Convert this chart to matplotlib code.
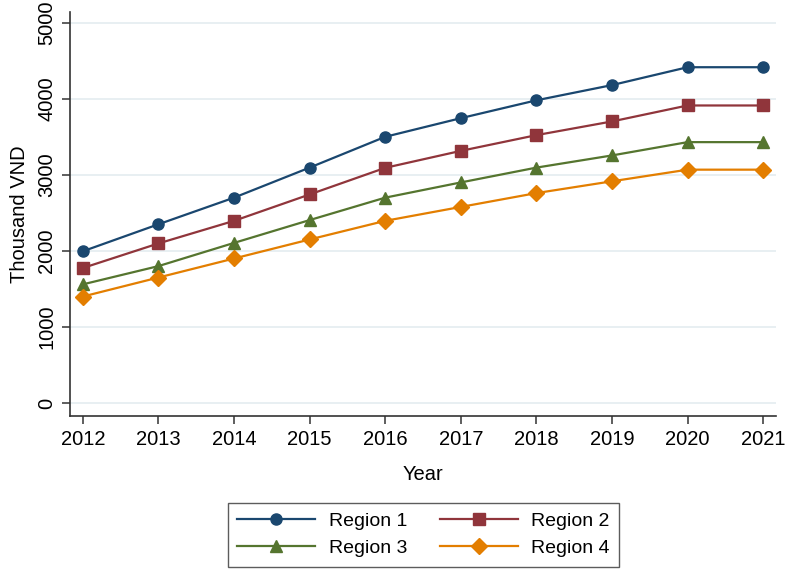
import matplotlib
matplotlib.use("Agg")
from matplotlib import pyplot as plt

years = [2012, 2013, 2014, 2015, 2016, 2017, 2018, 2019, 2020, 2021]
region1 = [1995, 2350, 2700, 3095, 3500, 3745, 3980, 4180, 4415, 4415]
region2 = [1775, 2098, 2395, 2742, 3092, 3315, 3522, 3702, 3912, 3912]
region3 = [1560, 1800, 2105, 2405, 2700, 2900, 3095, 3255, 3430, 3430]
region4 = [1400, 1650, 1900, 2150, 2395, 2578, 2760, 2915, 3068, 3068]
labels = ["Region 1", "Region 2", "Region 3", "Region 4"]
y_ticks = [0, 1000, 2000, 3000, 4000, 5000]

colors = ["#1a476f", "#90353b", "#55752f", "#e37e00"]
markers = ["o", "s", "^", "D"]
sizes = [8, 8, 8.5, 8]

plt.rcParams["font.family"] = ["Liberation Sans", "DejaVu Sans"]

fig = plt.figure(figsize=(7.87, 5.71), dpi=100)
ax = fig.add_axes([70 / 787, 1 - 415.7 / 571, 706 / 787, 404 / 571])

lines = []
for vals, lab, c, m, s in zip([region1, region2, region3, region4], labels, colors, markers, sizes):
    ln, = ax.plot(years, vals, color=c, marker=m, markersize=s, linewidth=1.6, label=lab, zorder=3)
    lines.append(ln)

ax.set_xlim(2011.83, 2021.17)
ax.set_ylim(-167, 5145)
ax.set_xticks(years)
ax.set_yticks(y_ticks)
ax.set_yticklabels([str(v) for v in y_ticks], rotation=90, va="center")
ax.grid(axis="y", color="#e6eef1", linewidth=1.3, zorder=0)
ax.set_axisbelow(True)

for side in ["top", "right"]:
    ax.spines[side].set_visible(False)
for side in ["left", "bottom"]:
    ax.spines[side].set_color("#333333")
    ax.spines[side].set_linewidth(1.2)
ax.tick_params(axis="both", labelsize=14.5, length=6, width=1.1, color="#333333", pad=4)

ax.set_xlabel("Year", fontsize=14.5, labelpad=12)
ax.set_ylabel("Thousand VND", fontsize=14.5, labelpad=6)

# fill legend row by row: Region 1, Region 2 / Region 3, Region 4
order = [0, 2, 1, 3]
leg = fig.legend([lines[i] for i in order], [labels[i] for i in order],
                 loc="upper center", bbox_to_anchor=(423.5 / 787, 1 - 503 / 571), ncol=2,
                 fontsize=14, frameon=True, fancybox=False, handlelength=4,
                 columnspacing=1.7, borderpad=0.48, labelspacing=0.5, handletextpad=0.7,
                 borderaxespad=0)
leg.get_frame().set_edgecolor("#333333")
leg.get_frame().set_linewidth(1.0)

fig.savefig("out.png", dpi=100)
